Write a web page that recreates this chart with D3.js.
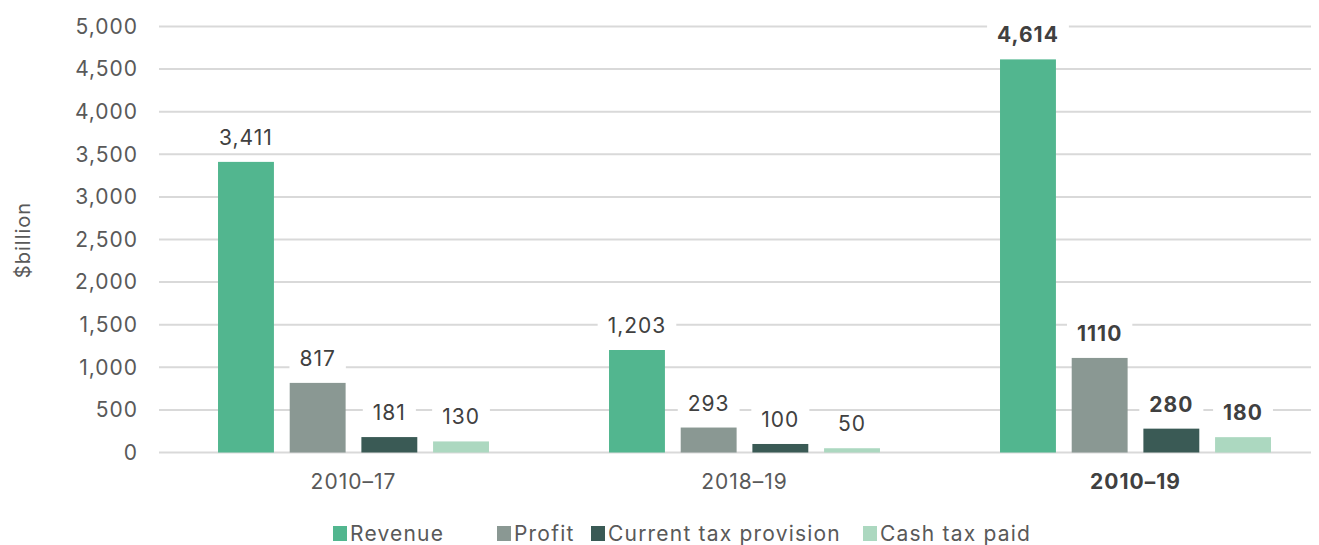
<!DOCTYPE html>
<html>
<head>
<meta charset="utf-8">
<script src="https://cdn.jsdelivr.net/npm/d3@7"></script>
<style>
  body { margin: 0; background: #fff; }
  text { font-family: Inter, "Open Sans", sans-serif; letter-spacing: 1px; }
</style>
</head>
<body>
<div id="container"></div>
<script>
/* CONSTANTS AND GLOBALS */
const width = 1319;
const height = 545;

/* DATA */
const periods = ["2010\u201317", "2018\u201319", "2010\u201319"];
const series = ["Revenue", "Profit", "Current tax provision", "Cash tax paid"];
const revenue = [3411, 1203, 4614];
const profit = [817, 293, 1110];
const currentTax = [181, 100, 280];
const cashTax = [130, 50, 180];
const labels = [
  ["3,411", "817", "181", "130"],
  ["1,203", "293", "100", "50"],
  ["4,614", "1110", "280", "180"]
];
const yTicks = [0, 500, 1000, 1500, 2000, 2500, 3000, 3500, 4000, 4500, 5000];
const colors = ["#52b68f", "#8a9893", "#3a5a55", "#acd8c0"];

const values = [revenue, profit, currentTax, cashTax];
const data = periods.map((p, i) => ({
  period: p,
  bold: i === 2,
  bars: series.map((s, j) => ({ series: s, value: values[j][i], label: labels[i][j] }))
}));

const svg = d3.select("#container")
  .append("svg")
  .attr("width", width)
  .attr("height", height)
  .style("background-color", "white");

/* SCALES */
const x0 = d3.scaleBand()
  .domain(periods)
  .range([158, 1331])
  .paddingInner(0.307)
  .paddingOuter(0.1535);

const x1 = d3.scaleBand()
  .domain(series)
  .range([0, x0.bandwidth()])
  .paddingInner(0.22);

const y = d3.scaleLinear()
  .domain([0, 5000])
  .range([452.5, 26.5]);

const color = d3.scaleOrdinal().domain(series).range(colors);

/* GRID + Y AXIS */
const yAxis = svg.append("g")
  .attr("transform", "translate(159,0)")
  .call(d3.axisLeft(y).tickValues(yTicks).tickFormat(d3.format(",")).tickSize(0).tickPadding(21));
yAxis.select(".domain").remove();
yAxis.selectAll("text")
  .attr("fill", "#595959")
  .style("font-size", "21px");

svg.append("g")
  .selectAll("line")
  .data(yTicks)
  .join("line")
  .attr("x1", 159)
  .attr("x2", 1311)
  .attr("y1", d => y(d))
  .attr("y2", d => y(d))
  .attr("stroke", "#d9d9d9")
  .attr("stroke-width", 2);

/* BARS */
const groups = svg.selectAll(".group")
  .data(data)
  .join("g")
  .attr("class", "group")
  .attr("transform", d => `translate(${x0(d.period)},0)`);

groups.selectAll("rect")
  .data(d => d.bars)
  .join("rect")
  .attr("x", d => x1(d.series))
  .attr("y", d => y(d.value))
  .attr("width", x1.bandwidth())
  .attr("height", d => y(0) - y(d.value))
  .attr("fill", d => color(d.series));

/* DATA LABELS with white boxes over grid */
groups.each(function(g) {
  const grp = d3.select(this);
  g.bars.forEach(b => {
    const cx = x1(b.series) + x1.bandwidth() / 2;
    const ty = y(b.value) - 17;
    const t = grp.append("text")
      .attr("x", cx)
      .attr("y", ty)
      .attr("text-anchor", "middle")
      .attr("fill", "#404040")
      .style("font-size", "21px")
      .style("font-weight", g.bold ? 700 : 400)
      .text(b.label);
    const bb = t.node().getBBox();
    grp.insert("rect", "text")
      .attr("x", bb.x - 10)
      .attr("y", bb.y + 2)
      .attr("width", bb.width + 20)
      .attr("height", bb.height - 2)
      .attr("fill", "white");
  });
});

/* X AXIS LABELS */
svg.append("g")
  .selectAll("text")
  .data(data)
  .join("text")
  .attr("x", d => x0(d.period) + x0.bandwidth() / 2)
  .attr("y", 489)
  .attr("text-anchor", "middle")
  .attr("fill", d => d.bold ? "#404040" : "#595959")
  .style("font-size", "21px")
  .style("font-weight", d => d.bold ? 700 : 400)
  .text(d => d.period);

/* Y LABEL */
svg.append("text")
  .attr("transform", "translate(30,240) rotate(-90)")
  .attr("text-anchor", "middle")
  .attr("fill", "#595959")
  .style("font-size", "20px")
  .text("$billion");

/* LEGEND */
const legendX = [333, 497, 591, 863];
const legend = svg.append("g")
  .selectAll("g")
  .data(series)
  .join("g")
  .attr("transform", (d, i) => `translate(${legendX[i]},526)`);

legend.append("rect")
  .attr("width", 14)
  .attr("height", 15)
  .attr("fill", d => color(d));

legend.append("text")
  .attr("x", 17)
  .attr("y", 15)
  .attr("fill", "#595959")
  .style("font-size", "21px")
  .style("letter-spacing", "1.2px")
  .text(d => d);
</script>
</body>
</html>
